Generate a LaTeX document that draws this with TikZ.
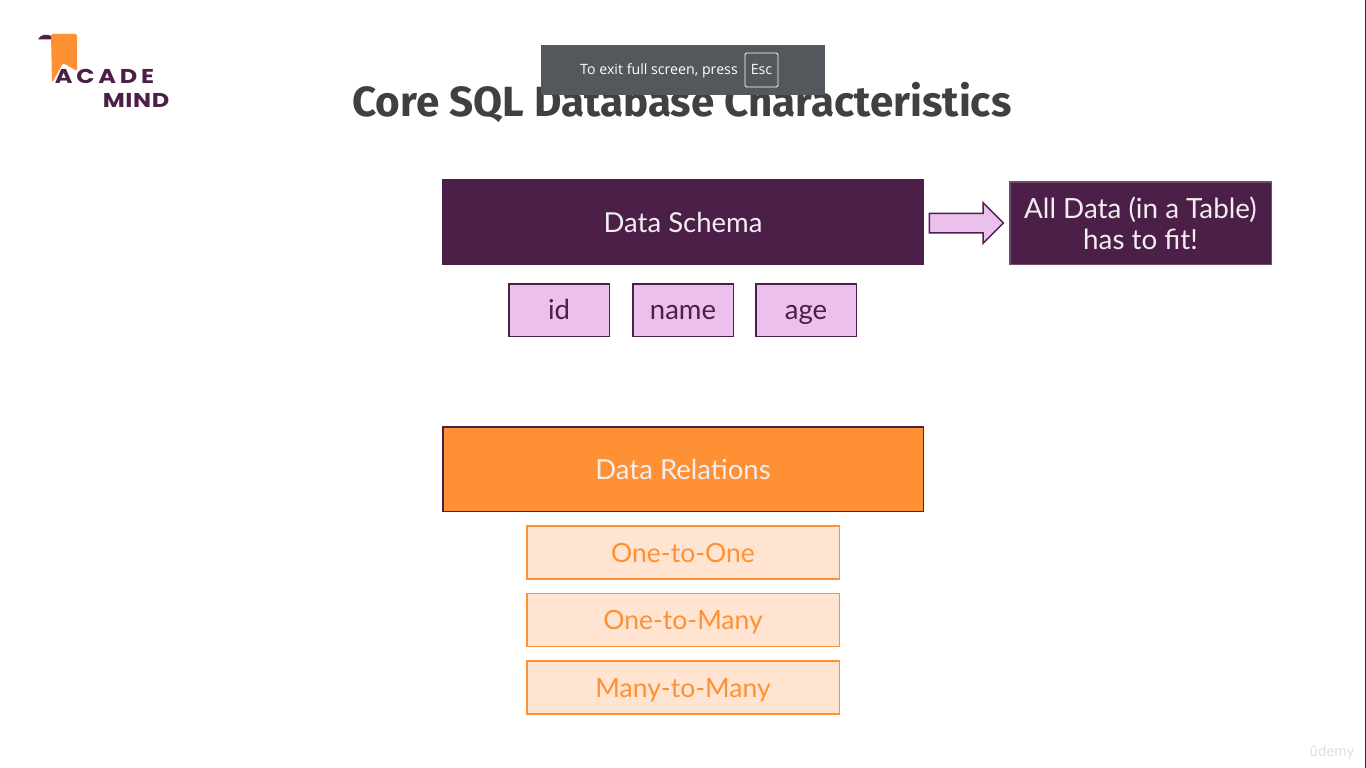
\documentclass[tikz,border=0pt]{standalone}
\usepackage{xcolor}
\usepackage{fontspec}
\setmainfont{Lato}
\newfontfamily\titlefont{Fira Sans}
\newfontfamily\bannerfont{Open Sans}
\newfontfamily\logotopfont[LetterSpace=19,FakeStretch=1.2]{Poppins}
\newfontfamily\logobottomfont[LetterSpace=3,FakeStretch=1.2]{Poppins}
\usetikzlibrary{shapes,arrows,positioning,fit,calc}
\definecolor{schemacolor}{RGB}{76,31,72}
\definecolor{pinkcolor}{RGB}{235,192,236}
\definecolor{relationcolor}{RGB}{255,144,51}
\definecolor{palecolor}{RGB}{255,228,209}
\definecolor{bannercolor}{RGB}{84,87,92}
\definecolor{titlecolor}{RGB}{64,64,64}
\tikzset{
    headbox/.style={draw=schemacolor, line width=1.5pt, minimum width=480.5pt, minimum height=84.5pt, text=white!92!schemacolor, font=\fontsize{27.5}{33}\selectfont},
    fieldbox/.style={draw=schemacolor, line width=1.5pt, fill=pinkcolor, text=schemacolor, minimum width=100.5pt, minimum height=52.5pt, text height=23pt, text depth=5pt, font=\fontsize{27.5}{33}\selectfont},
    kindbox/.style={draw=relationcolor, line width=1.5pt, fill=palecolor, text=relationcolor, minimum width=312.5pt, minimum height=53pt, text height=22pt, text depth=2pt, font=\fontsize{26.5}{32}\selectfont}
}

\begin{document}
\begin{tikzpicture}[x=1pt, y=1pt]
        \useasboundingbox (0,0) rectangle (1366,-768);
        \fill[white] (0,0) rectangle (1366,-768);
        \fill[black!80] (1365,0) rectangle (1366,-768);

        \fill[relationcolor, rounded corners=2pt] (51,-34) -- (77,-34) -- (77,-71) -- (63,-63) -- (52,-83) -- cycle;
        \fill[schemacolor] (38,-39.5) .. controls (40,-34.5) and (47,-33.5) .. (51,-36) -- (51,-39.5) -- cycle;
        \node[font=\logotopfont\bfseries\fontsize{20}{24}\selectfont, text=schemacolor, inner sep=0pt] (logotop) at (104.5,-76) {ACADE};
        \node[font=\logobottomfont\bfseries\fontsize{20}{24}\selectfont, text=schemacolor, inner sep=0pt] (logobottom) at (136,-100) {MIND};

        \node[font=\titlefont\bfseries\fontsize{42.2}{50}\selectfont, text=titlecolor, inner sep=0pt] (title) at (682,-102) {Core SQL Database Characteristics};
        \node[fill=bannercolor, minimum width=284pt, minimum height=50pt, inner sep=0pt] (banner) at (683,-70) {};
        \node[font=\bannerfont\fontsize{14.2}{17}\selectfont, text=white, inner sep=0pt] (bannertext) at (659,-71) {To exit full screen, press};
        \node[draw=white, line width=0.8pt, rounded corners=1.5pt, minimum width=33pt, minimum height=34pt, inner sep=0pt, font=\bannerfont\fontsize{14.2}{17}\selectfont, text=white] (esckey) at (761.5,-70) {Esc};

        \node[headbox, fill=schemacolor] (schema) at (683,-222) {Data Schema};
        \node[fieldbox, below=18pt of schema] (name) {name};
        \node[fieldbox, left=22pt of name] (id) {id};
        \node[fieldbox, right=21pt of name] (age) {age};

        \node[single arrow, draw=schemacolor, line width=1.5pt, fill=pinkcolor, minimum height=74pt, inner xsep=0pt, inner ysep=9pt, single arrow head extend=10.5pt] (fitarrow) at (961.5,-223) {};
        \node[fill=schemacolor, draw=schemacolor!80!white, line width=1.5pt, minimum width=261.5pt, minimum height=82.5pt, align=center, text=white!92!schemacolor, font=\fontsize{27.8}{31}\selectfont] (fitbox) at (1140.5,-223) {All Data (in a Table)\\has to fit!};

        \node[headbox, fill=relationcolor] (relations) at (683,-469.2) {Data Relations};
        \node[kindbox, below=13pt of relations] (oneone) {One-to-One};
        \node[kindbox, below=13pt of oneone] (onemany) {One-to-Many};
        \node[kindbox, below=13pt of onemany] (manymany) {Many-to-Many};

        \node[font=\fontsize{15}{18}\selectfont, text=black!12, inner sep=0pt] (watermark) at (1332,-752) {ûdemy};
    \end{tikzpicture}
\end{document}
